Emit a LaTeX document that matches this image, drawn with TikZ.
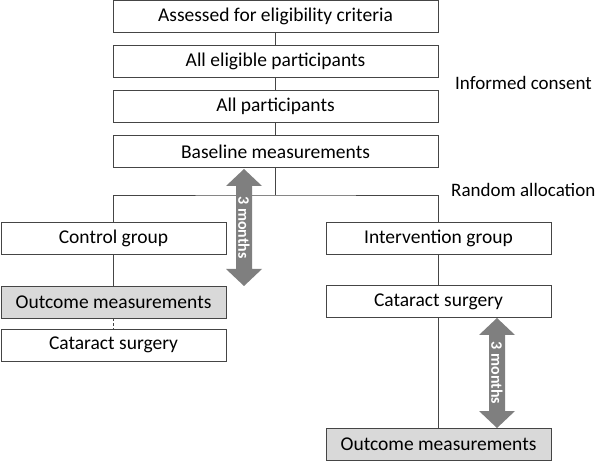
\documentclass[tikz,border=0pt]{standalone}
\usepackage{fontspec}
\setmainfont{Carlito}
\definecolor{linec}{HTML}{454545}
\definecolor{arrowc}{HTML}{7F7F7F}
\definecolor{boxgray}{HTML}{D9D9D9}
\newcommand\vdarrow[4]{%
  \fill[arrowc] (#1,#2) -- (#1+18,#2+17) -- (#1+8,#2+17) -- (#1+8,#3-17) -- (#1+18,#3-17) -- (#1,#3)
     -- (#1-18,#3-17) -- (#1-8,#3-17) -- (#1-8,#2+17) -- (#1-18,#2+17) -- cycle;
  \node[monthtext] (#4) at (#1,{(#2+#3)/2}) {3 months};}
\begin{document}
\begin{tikzpicture}[x=1pt,y=-1pt,
  box/.style={draw=linec, line width=0.9pt, fill=white, minimum height=32pt, inner sep=0pt,
    font=\fontsize{19.5}{22}\selectfont, text=black},
  graybox/.style={box, fill=boxgray},
  conn/.style={draw=linec, line width=0.9pt},
  side/.style={font=\fontsize{19}{22}\selectfont, anchor=west, inner sep=0pt},
  monthtext/.style={text=white, font=\fontsize{16}{18}\bfseries, rotate=-90, inner sep=0pt}]
\useasboundingbox (0,0) rectangle (600,462);
\node[box, minimum width=325pt] (a) at (275.5,16.5) {Assessed for eligibility criteria};
\node[box, minimum width=325pt] (b) at (275.5,61) {All eligible participants};
\node[box, minimum width=325pt] (c) at (275.5,106) {All participants};
\node[box, minimum width=325pt] (d) at (275.5,151.5) {Baseline measurements};
\coordinate (split) at (275.5,195);
\node[box, minimum width=225pt] (ctrl) at (113.5,238) {Control group};
\node[graybox, minimum width=225pt] (outl) at (113.5,302) {Outcome measurements};
\node[box, minimum width=225pt] (catl) at (113.5,345) {Cataract surgery};
\node[box, minimum width=225pt] (intv) at (438.5,238.5) {Intervention group};
\node[box, minimum width=225pt] (catr) at (438.5,301.5) {Cataract surgery};
\node[graybox, minimum width=225pt] (outr) at (438.5,444.5) {Outcome measurements};
\node[side] (ic) at (455,83) {Informed consent};
\node[side] (ra) at (451,190) {Random allocation};
\draw[conn] (a) -- (b);
\draw[conn] (b) -- (c);
\draw[conn] (c) -- (d);
\draw[conn] (d) -- (split);
\draw[conn] (ctrl.north) |- (split) -| (intv.north);
\draw[conn] (ctrl) -- (outl);
\draw[conn, dashed, dash pattern=on 3pt off 2pt] (outl) -- (catl);
\draw[conn] (intv) -- (catr);
\draw[conn] (catr) -- (outr);
\vdarrow{244}{169}{286}{m1}
\vdarrow{497}{318}{428}{m2}
\end{tikzpicture}
\end{document}
